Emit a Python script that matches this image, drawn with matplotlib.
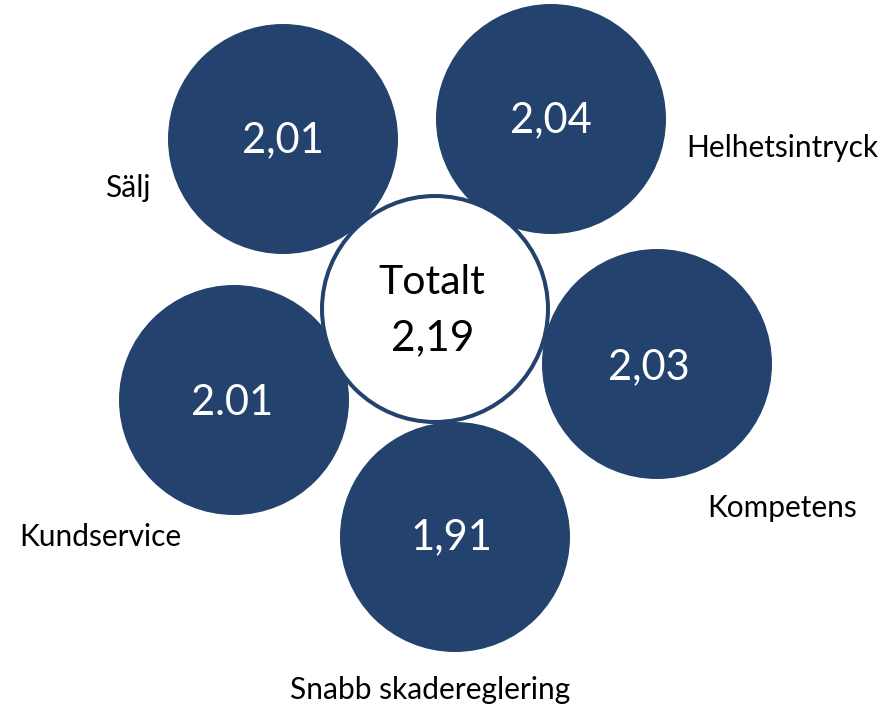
import matplotlib
matplotlib.use("Agg")
import matplotlib.pyplot as plt
from matplotlib.patches import Circle

# Data
categories = ["Sälj", "Helhetsintryck", "Kompetens", "Snabb skadereglering", "Kundservice"]
values = ["2,01", "2,04", "2,03", "1,91", "2.01"]
total_label = "Totalt"
total_value = "2,19"

# Layout (pixel coordinates of the 888x708 canvas)
circle_centers = [(283, 139), (551, 119), (657, 364), (455, 537), (234, 400)]
value_pos = [(283, 140), (551, 120), (649, 367), (452, 537), (232, 403)]
label_pos = [(128, 188), (782, 148), (782, 508), (430, 690), (100, 537)]
center_xy = (435, 309)
radius = 115

NAVY = "#23426E"
FONT = "Lato"

fig = plt.figure(figsize=(8.88, 7.08), dpi=100)
ax = fig.add_axes([0, 0, 1, 1])
ax.set_xlim(0, 888)
ax.set_ylim(708, 0)
ax.set_aspect("equal")
ax.axis("off")

for (cx, cy), (vx, vy), (lx, ly), cat, val in zip(circle_centers, value_pos, label_pos, categories, values):
    ax.add_patch(Circle((cx, cy), radius, facecolor=NAVY, edgecolor="none", zorder=1))
    ax.text(vx, vy, val, color="white", fontsize=30, family=FONT,
            ha="center", va="center", zorder=5)
    ax.text(lx, ly, cat, color="black", fontsize=21.5, family=FONT,
            ha="center", va="center", zorder=5)

ax.add_patch(Circle(center_xy, radius - 2, facecolor="white", edgecolor=NAVY,
                    linewidth=2.9, zorder=3))
ax.text(center_xy[0] - 3, 283, total_label, color="black", fontsize=29.5, family=FONT,
        ha="center", va="center", zorder=5)
ax.text(center_xy[0] - 2, 338, total_value, color="black", fontsize=30.5, family=FONT,
        ha="center", va="center", zorder=5)

fig.savefig("out.png", dpi=100)
